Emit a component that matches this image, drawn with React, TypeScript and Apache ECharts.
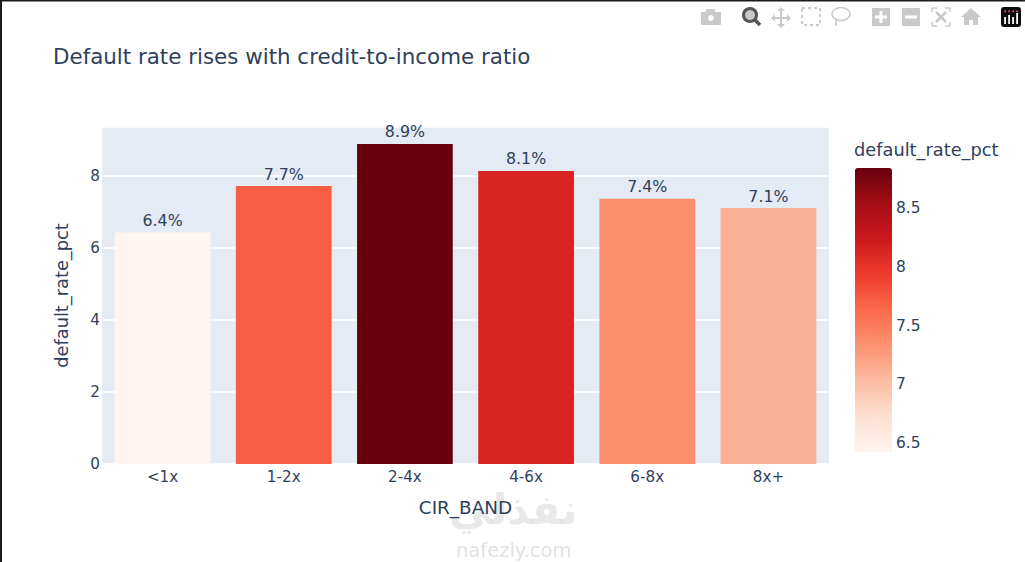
import React, { useEffect, useRef } from "react";
import * as echarts from "echarts";

const categories = ["<1x", "1-2x", "2-4x", "4-6x", "6-8x", "8x+"];
const defaultRatePct = [6.42, 7.71, 8.88, 8.13, 7.36, 7.1];
const yTicks = [0, 2, 4, 6, 8];
const colorbarTicks = [6.5, 7, 7.5, 8, 8.5];
const redsScale = [
  "rgb(255,245,240)", "rgb(254,224,210)", "rgb(252,187,161)", "rgb(252,146,114)",
  "rgb(251,106,74)", "rgb(239,59,44)", "rgb(203,24,29)", "rgb(165,15,21)", "rgb(103,0,13)",
];
const TITLE = "Default rate rises with credit-to-income ratio";
const FONT = "'DejaVu Sans', Verdana, sans-serif";
const INK = "#2f3f5c";
const ICON = "#c9c9c9";

const CB_TOP = 168, CB_H = 284, CB_X = 855, CB_W = 37;
const CB_MIN = 6.42, CB_MAX = 8.84;

function rect(x: number, y: number, w: number, h: number, fill: string, r = 0) {
  return { type: "rect", silent: true, shape: { x, y, width: w, height: h, r }, style: { fill } };
}
function line(x1: number, y1: number, x2: number, y2: number, stroke: string, lineWidth = 2, lineDash?: number[]) {
  return { type: "line", silent: true, shape: { x1, y1, x2, y2 }, style: { stroke, lineWidth, lineDash } };
}
function poly(points: number[][], fill: string) {
  return { type: "polygon", silent: true, shape: { points }, style: { fill } };
}

function toolbar() {
  const els: any[] = [];
  // camera
  els.push(rect(701, 12, 20, 13, ICON, 1), rect(706, 9, 9, 4, ICON, 1));
  els.push({ type: "circle", silent: true, shape: { cx: 711, cy: 18, r: 4 }, style: { fill: "#fff", stroke: ICON, lineWidth: 2 } });
  // zoom (active)
  els.push({ type: "circle", silent: true, shape: { cx: 750, cy: 15, r: 6.5 }, style: { fill: "#c9c9c9", stroke: "#555", lineWidth: 3 } });
  els.push(line(755, 20, 760, 25, "#555", 3.5));
  // pan
  els.push(line(781, 10, 781, 26, ICON, 2), line(773, 18, 789, 18, ICON, 2));
  els.push(poly([[781, 7], [777, 11], [785, 11]], ICON), poly([[781, 28], [777, 24], [785, 24]], ICON));
  els.push(poly([[771, 18], [775, 14], [775, 22]], ICON), poly([[791, 18], [787, 14], [787, 22]], ICON));
  // box select
  els.push({ type: "rect", silent: true, shape: { x: 802, y: 8, width: 18, height: 17 }, style: { fill: "none", stroke: ICON, lineWidth: 2, lineDash: [3, 3] } });
  // lasso
  els.push({ type: "ellipse", silent: true, shape: { cx: 841, cy: 14, rx: 9, ry: 6.5 }, style: { fill: "none", stroke: ICON, lineWidth: 1.5 } });
  els.push(line(836, 19, 836, 26, ICON, 1.5));
  // zoom in / out
  els.push(rect(872, 8, 18, 18, ICON), rect(879.5, 11, 3, 12, "#fff"), rect(875, 15.5, 12, 3, "#fff"));
  els.push(rect(902, 8, 18, 18, ICON), rect(905, 15.5, 12, 3, "#fff"));
  // autoscale
  els.push(line(932, 12, 932, 8, ICON, 1.5), line(932, 8, 937, 8, ICON, 1.5), line(945, 8, 950, 8, ICON, 1.5), line(950, 8, 950, 12, ICON, 1.5));
  els.push(line(932, 22, 932, 26, ICON, 1.5), line(932, 26, 937, 26, ICON, 1.5), line(945, 26, 950, 26, ICON, 1.5), line(950, 26, 950, 22, ICON, 1.5));
  els.push(line(936, 12, 946, 22, ICON, 2.5), line(946, 12, 936, 22, ICON, 2.5));
  // home
  els.push(poly([[971, 8], [981, 17], [978, 17], [978, 25], [973, 25], [973, 20], [969, 20], [969, 25], [964, 25], [964, 17], [961, 17]], ICON));
  // logo
  els.push(rect(1001, 7, 20, 20, "#0b0b0b", 3));
  [1005, 1009, 1013, 1017].forEach((x, i) => {
    const top = [17, 15, 17, 13][i];
    els.push(rect(x - 0.8, top, 1.8, 24 - top, "#fff"));
    els.push(rect(x - 0.8, 10.5, 1.8, 1.8, "#d0527a"));
  });
  return els;
}

export default function App() {
  const ref = useRef<HTMLDivElement>(null);
  useEffect(() => {
    if (!ref.current) return;
    const chart = echarts.init(ref.current, undefined, { renderer: "svg" });
    const cbY = (v: number) => CB_TOP + CB_H - ((v - CB_MIN) / (CB_MAX - CB_MIN)) * CB_H;
    chart.setOption({
      animation: false,
      backgroundColor: "#ffffff",
      textStyle: { fontFamily: FONT },
      title: {
        text: TITLE,
        left: 53,
        top: 46,
        padding: 0,
        textStyle: { color: INK, fontFamily: FONT, fontSize: 21.4, fontWeight: "normal" },
      },
      grid: {
        left: 102, right: 196, top: 127, bottom: 98,
        show: true, backgroundColor: "#e4ebf5", borderWidth: 0,
      },
      xAxis: {
        type: "category",
        data: categories,
        name: "CIR_BAND",
        nameLocation: "middle",
        nameGap: 34,
        nameTextStyle: { color: INK, fontSize: 18.4, fontFamily: FONT },
        axisLine: { show: false },
        axisTick: { show: false },
        axisLabel: { color: INK, fontSize: 15.2, margin: 5, fontFamily: FONT },
      },
      yAxis: {
        type: "value",
        min: 0,
        max: 9.35,
        interval: 2,
        name: "default_rate_pct",
        nameLocation: "middle",
        nameGap: 32,
        nameTextStyle: { color: INK, fontSize: 17.8, fontFamily: FONT },
        axisLine: { show: false },
        axisTick: { show: false },
        axisLabel: {
          color: INK, fontSize: 15.2, margin: 2, fontFamily: FONT,
          showMaxLabel: false,
          formatter: (v: number) => (yTicks.includes(v) ? String(v) : ""),
        },
        splitLine: { show: true, lineStyle: { color: "#ffffff", width: 1.5 } },
      },
      visualMap: {
        type: "continuous",
        show: true,
        min: CB_MIN,
        max: CB_MAX,
        dimension: 1,
        seriesIndex: 0,
        calculable: false,
        realtime: false,
        orient: "vertical",
        left: CB_X,
        top: CB_TOP,
        padding: 0,
        itemWidth: CB_W,
        itemHeight: CB_H,
        text: ["", ""],
        inRange: { color: redsScale },
      },
      series: [
        {
          type: "bar",
          data: defaultRatePct,
          barWidth: "79%",
          label: {
            show: true,
            position: "top",
            distance: 4,
            color: INK,
            fontSize: 15.8,
            fontFamily: FONT,
            formatter: (p: any) => `${Number(p.value).toFixed(1)}%`,
          },
        },
      ],
      graphic: [
        rect(0, 0, 1025, 1.5, "#1b1b1b"),
        rect(0, 0, 2, 562, "#1b1b1b"),
        ...toolbar(),
        {
          type: "text", silent: true, x: 854, y: 140,
          style: { text: "default_rate_pct", fill: INK, fontSize: 17.8, fontFamily: FONT },
        },
        ...colorbarTicks.map((v) => ({
          type: "text", silent: true, x: 896, y: cbY(v) - 7,
          style: { text: String(v), fill: INK, fontSize: 15.4, fontFamily: FONT },
        })),
        {
          type: "text", silent: true, x: 449, y: 488,
          style: { text: "نفذلي", fill: "rgba(120,120,120,0.17)", fontSize: 42, fontWeight: "bold", fontFamily: "'DejaVu Sans', sans-serif" },
        },
        {
          type: "text", silent: true, x: 456, y: 540,
          style: { text: "nafezly.com", fill: "rgba(120,120,120,0.24)", fontSize: 19.5, fontFamily: FONT },
        },
      ],
    });
    return () => chart.dispose();
  }, []);
  return (
    <div
      ref={ref}
      style={{ position: "fixed", left: 0, top: 0, width: 1025, height: 562 }}
    />
  );
}
